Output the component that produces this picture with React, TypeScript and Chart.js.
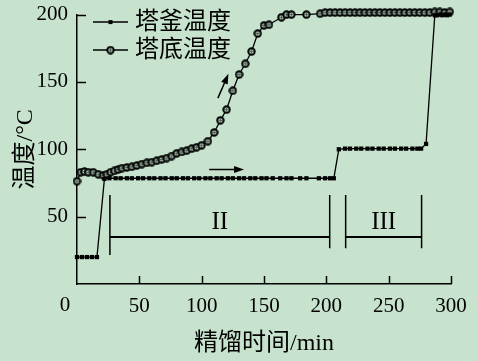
import React, { useEffect, useRef } from "react";
import { Chart, registerables } from "chart.js";

Chart.register(...registerables);

// ---------- data ----------
const seriesNames = ["塔釜温度", "塔底温度"];
const xTitle = "精馏时间/min";
const yTitle = "温度/°C";

const kettleTime = [
  0, 4, 8, 12, 16, 22, 26, 31, 35, 40, 44, 49, 53, 58, 62, 67, 71, 76, 80, 85,
  89, 94, 98, 103, 107, 112, 116, 121, 125, 130, 134, 139, 143, 148, 152, 157,
  163, 168, 172, 179, 184, 194, 199, 203, 206, 210, 215, 219, 224, 228, 233,
  237, 242, 246, 251, 255, 260, 264, 269, 273, 276, 280, 287, 289, 291, 293,
  295, 297, 299,
];
const kettleTemp = [
  20, 20, 20, 20, 20, 78, 78.5, 78.5, 78.5, 78.5, 78.5, 78.5, 78.5, 78.5, 78.5,
  78.5, 78.5, 78.5, 78.5, 78.5, 78.5, 78.5, 78.5, 78.5, 78.5, 78.5, 78.5, 78.5,
  78.5, 78.5, 78.5, 78.5, 78.5, 78.5, 78.5, 78.5, 78.5, 78.5, 78.5, 78.5, 78.5,
  78.5, 78.5, 78.5, 78.5, 100, 100.5, 100.5, 100.5, 100.5, 100.5, 100.5, 100.5,
  100.5, 100.5, 100.5, 100.5, 100.5, 100.5, 100.5, 100.5, 104, 199.5, 199.5,
  200, 199.5, 200, 199.5, 200,
];

const bottomTime = [
  0, 3, 6, 9, 13, 17, 21, 24, 27, 30, 33, 36, 40, 44, 48, 52, 56, 60, 64, 68,
  72, 76, 80, 84, 88, 92, 96, 100, 105, 110, 115, 120, 125, 130, 135, 140, 145,
  150, 154, 164, 168, 172, 184, 195, 199, 203, 207, 211, 215, 219, 223, 227,
  231, 235, 239, 243, 247, 251, 255, 259, 263, 267, 271, 275, 279, 283, 287,
  291, 295, 299,
];
const bottomTemp = [
  76.3, 83, 83.5, 83, 83, 81.5, 80.7, 81.5, 83, 84, 85, 86, 86.5, 87, 88, 89,
  90, 90.5, 91.5, 92.5, 93.5, 95, 97, 98, 99, 100.5, 101.5, 103, 106, 112.5,
  121.5, 129.5, 143.5, 155.5, 163.5, 172.6, 186, 192, 192.5, 198, 200, 200,
  200, 200.7, 201.5, 201.5, 201.5, 201.5, 201.5, 201.5, 201.5, 201.5, 201.5,
  201.5, 201.5, 201.5, 201.5, 201.5, 201.5, 201.5, 201.5, 201.5, 201.5, 201.5,
  201.5, 201.5, 202, 202, 201.5, 202,
];

const xTickValues = [0, 50, 100, 150, 200, 250, 300];
const yTickValues = [0, 50, 100, 150, 200];

const stageLabels = ["II", "III"];
const stageStart = [26.4, 215.5];
const stageEnd = [202.7, 276.4];

// ---------- styles ----------
const BG = "#c7e3cd";
const INK = "#000000";
const SERIF = '"Liberation Serif", "Times New Roman", "Noto Sans CJK SC", serif';

function makeBottomMarker(): HTMLCanvasElement {
  const c = document.createElement("canvas");
  c.width = 9;
  c.height = 9;
  const g = c.getContext("2d")!;
  g.fillStyle = "#55655a";
  g.beginPath();
  g.arc(4.5, 4.5, 3.4, 0, Math.PI * 2);
  g.fill();
  g.strokeStyle = INK;
  g.lineWidth = 1.6;
  g.stroke();
  g.fillStyle = "#b9d4c0";
  g.fillRect(3, 3, 1, 1);
  g.fillRect(5, 5, 1, 1);
  g.fillRect(5, 3, 1, 1);
  g.fillRect(3, 5, 1, 1);
  return c;
}

function arrow(ctx: CanvasRenderingContext2D, x1: number, y1: number, x2: number, y2: number) {
  const ang = Math.atan2(y2 - y1, x2 - x1);
  const hl = 10;
  const hw = 3.5;
  const bx = x2 - hl * Math.cos(ang);
  const by = y2 - hl * Math.sin(ang);
  ctx.beginPath();
  ctx.moveTo(x1, y1);
  ctx.lineTo(bx, by);
  ctx.stroke();
  ctx.beginPath();
  ctx.moveTo(x2, y2);
  ctx.lineTo(bx + hw * Math.sin(ang), by - hw * Math.cos(ang));
  ctx.lineTo(bx - hw * Math.sin(ang), by + hw * Math.cos(ang));
  ctx.closePath();
  ctx.fill();
}

export default function App() {
  const ref = useRef<HTMLCanvasElement | null>(null);

  useEffect(() => {
    if (!ref.current) return;
    const bottomMarker = makeBottomMarker();

    const overlay = {
      id: "overlay",
      afterDatasetsDraw(chart: any) {
        const { ctx, chartArea } = chart;
        const xs = chart.scales.x;
        const ys = chart.scales.y;
        ctx.save();
        ctx.strokeStyle = INK;
        ctx.fillStyle = INK;
        ctx.lineWidth = 1.5;

        // inward tick marks
        xTickValues.forEach((v) => {
          if (v === 0) return;
          const px = Math.round(xs.getPixelForValue(v)) + 0.5;
          ctx.beginPath();
          ctx.moveTo(px, chartArea.bottom);
          ctx.lineTo(px, chartArea.bottom - 8);
          ctx.stroke();
        });
        yTickValues.forEach((v) => {
          if (v === 0) return;
          const py = Math.round(ys.getPixelForValue(v)) + 0.5;
          ctx.beginPath();
          ctx.moveTo(chartArea.left, py);
          ctx.lineTo(chartArea.left + 9, py);
          ctx.stroke();
        });

        // origin label
        ctx.font = `21px ${SERIF}`;
        ctx.textAlign = "center";
        ctx.textBaseline = "middle";
        ctx.fillText("0", chartArea.left - 12, chartArea.bottom + 21);

        // stage brackets
        const yTop = ys.getPixelForValue(66);
        const yBot = ys.getPixelForValue(26.5);
        const yBar = ys.getPixelForValue(34.8);
        const yTxt = ys.getPixelForValue(46);
        ctx.font = `25px ${SERIF}`;
        stageLabels.forEach((lab, i) => {
          const a = xs.getPixelForValue(stageStart[i]);
          const b = xs.getPixelForValue(stageEnd[i]);
          ctx.beginPath();
          ctx.moveTo(a, yTop);
          ctx.lineTo(a, i === 0 ? ys.getPixelForValue(21.5) : yBot);
          ctx.moveTo(b, yTop);
          ctx.lineTo(b, yBot);
          ctx.stroke();
          ctx.lineWidth = 2;
          ctx.beginPath();
          ctx.moveTo(a, yBar);
          ctx.lineTo(b, yBar);
          ctx.stroke();
          ctx.lineWidth = 1.5;
          ctx.fillText(lab, (a + b) / 2, yTxt);
        });

        // arrows
        arrow(ctx, xs.getPixelForValue(113), ys.getPixelForValue(138), xs.getPixelForValue(121.5), ys.getPixelForValue(156));
        arrow(ctx, xs.getPixelForValue(106), ys.getPixelForValue(85), xs.getPixelForValue(134), ys.getPixelForValue(85));

        // legend
        const lx0 = chartArea.left + 16;
        const lx1 = chartArea.left + 51;
        const rows = [chartArea.top + 7.5, chartArea.top + 35.5];
        ctx.font = `24px ${SERIF}`;
        ctx.textAlign = "left";
        ctx.textBaseline = "middle";
        rows.forEach((ry, i) => {
          ctx.lineWidth = 1.5;
          ctx.beginPath();
          ctx.moveTo(lx0, ry);
          ctx.lineTo(lx1, ry);
          ctx.stroke();
          const mx = (lx0 + lx1) / 2;
          if (i === 0) {
            ctx.fillRect(mx - 2, ry - 2, 4, 4);
          } else {
            ctx.drawImage(bottomMarker, mx - 4.5, ry - 4.5);
          }
          ctx.fillText(seriesNames[i], lx1 + 7, ry + 1);
        });
        ctx.restore();
      },
    };

    const chart = new Chart(ref.current, {
      type: "line",
      data: {
        datasets: [
          {
            label: seriesNames[0],
            data: kettleTime.map((t, i) => ({ x: t, y: kettleTemp[i] })),
            borderColor: INK,
            backgroundColor: INK,
            borderWidth: 1.3,
            pointStyle: "rect",
            pointRadius: 3,
            pointBorderWidth: 0,
            pointBackgroundColor: INK,
            tension: 0,
            clip: false as any,
          },
          {
            label: seriesNames[1],
            data: bottomTime.map((t, i) => ({ x: t, y: bottomTemp[i] })),
            borderColor: INK,
            backgroundColor: INK,
            borderWidth: 1.3,
            pointStyle: bottomMarker as any,
            pointRadius: 4,
            tension: 0,
            clip: false as any,
          },
        ],
      },
      options: {
        animation: false,
        responsive: true,
        maintainAspectRatio: false,
        layout: { padding: { left: 0, top: 14.6, right: 27, bottom: 0 } },
        plugins: {
          legend: { display: false },
          tooltip: { enabled: false },
        },
        scales: {
          x: {
            type: "linear",
            min: 0,
            max: 300,
            afterFit: (s: any) => {
              s.height = 77;
              s.paddingLeft = 0;
              s.paddingRight = 0;
            },
            afterBuildTicks: (s: any) => {
              s.ticks = xTickValues.map((v) => ({ value: v }));
            },
            grid: { display: false, drawTicks: false },
            border: { display: true, color: INK, width: 1.5 },
            ticks: {
              color: INK,
              padding: 10,
              maxRotation: 0,
              font: { family: SERIF, size: 21 },
              callback: (v: any) => (v === 0 ? "" : String(v)),
            },
            title: {
              display: true,
              text: xTitle,
              color: INK,
              font: { family: SERIF, size: 24 },
              padding: { top: 0, bottom: 3 },
            },
          },
          y: {
            type: "linear",
            min: 0,
            max: 200,
            afterFit: (s: any) => {
              s.width = 77;
              s.paddingTop = 0;
              s.paddingBottom = 0;
            },
            afterBuildTicks: (s: any) => {
              s.ticks = yTickValues.map((v) => ({ value: v }));
            },
            grid: { display: false, drawTicks: false },
            border: { display: true, color: INK, width: 1.5 },
            ticks: {
              color: INK,
              padding: 9,
              font: { family: SERIF, size: 21 },
              callback: (v: any) => (v === 0 ? "" : String(v)),
            },
            title: {
              display: true,
              text: yTitle,
              color: INK,
              font: { family: SERIF, size: 24 },
              padding: { top: 11, bottom: 0 },
            },
          },
        },
      },
      plugins: [overlay],
    });
    return () => chart.destroy();
  }, []);

  return (
    <div
      style={{
        position: "absolute",
        left: 0,
        top: 0,
        width: 478,
        height: 361,
        background: BG,
      }}
    >
      <canvas ref={ref} />
    </div>
  );
}
